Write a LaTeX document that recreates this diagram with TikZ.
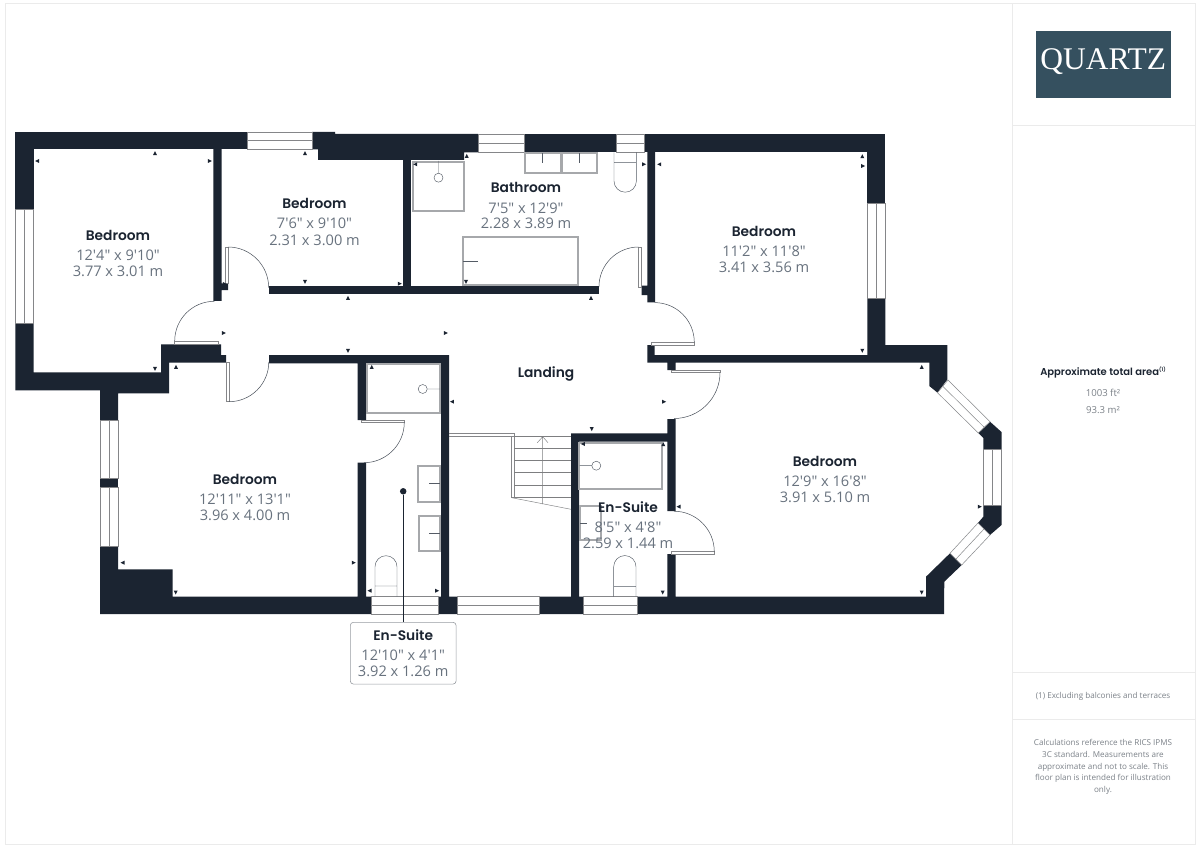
\documentclass[tikz,border=0pt]{standalone}
\usepackage{fontspec}
\newfontfamily\dimf{Open Sans}
\newfontfamily\namef[UprightFont=* SemiBold]{Poppins}
\newfontfamily\logof{Liberation Serif}
\definecolor{wall}{HTML}{1B2431}
\definecolor{dimtext}{HTML}{68727E}
\definecolor{fx}{HTML}{A6A8AB}
\definecolor{frameln}{HTML}{EBEBEB}
\definecolor{logobg}{HTML}{35505F}
\definecolor{noteln}{HTML}{7B8188}
\tikzset{
 x=1pt,y=-1pt,
 wallfill/.style={fill=wall,draw=none},
 winbox/.style={draw=fx!80!black,line width=.5pt,fill=white},
 fixture/.style={draw=fx,line width=1.7pt},
 thinfix/.style={draw=wall!75!white,line width=.45pt},
 leaf/.style={draw=fx!80!black,line width=.5pt,fill=white},
 swing/.style={draw=wall!80!white,line width=.5pt},
 rname/.style={font=\namef\fontsize{13.8}{14}\selectfont,text=wall,anchor=base,inner sep=0pt},
 rdim/.style={font=\dimf\fontsize{14.6}{15}\selectfont,text=dimtext,anchor=base,inner sep=0pt},
 note/.style={font=\dimf\fontsize{8.1}{11.6}\selectfont,text=noteln,anchor=base,inner sep=0pt},
}
\newcommand{\roomlabel}[7]{%
 \node[rname] (#1n) at (#2,#3) {#4};
 \node[rdim] (#1a) at (#2,#3+20) {#5};
 \node[rdim] (#1b) at (#2,#3+#7) {#6};}
\newcommand{\hwin}[4]{\draw[winbox] (#1,#2) rectangle (#3,#4); \draw[winbox] (#1,{(#2+#4)/2}) -- (#3,{(#2+#4)/2});}
\newcommand{\vwin}[4]{\draw[winbox] (#1,#2) rectangle (#3,#4); \draw[winbox] ({(#1+#3)/2},#2) -- ({(#1+#3)/2},#4);}
\newcommand{\fxrect}[4]{\draw[fixture] (#1,#2) rectangle (#3,#4);}
\newcommand{\dmk}[3]{\begin{scope}[shift={(#1,#2)},rotate=#3]\fill[wall] (-2.2,-2)--(-2.2,2)--(1.8,0)--cycle;\end{scope}}
\begin{document}
\begin{tikzpicture}
\useasboundingbox (0,0) rectangle (1200,848);
\fill[white] (0,0) rectangle (1200,848);
% frame
\draw[frameln,line width=1pt] (5,4) rectangle (1195,844);
\draw[frameln,line width=1pt] (1012,4)--(1012,844) (1012,126)--(1195,126) (1012,672)--(1195,672) (1012,719)--(1195,719);
% walls
\fill[wallfill] (15.3,132) rectangle (247,149.5);
\fill[wallfill] (15.3,132) rectangle (33.5,209);
\fill[wallfill] (15.3,323)--(33.5,323)--(33.5,372.3)--(161,372.3)--(161,344.3)--(221,344.3)--(221,355)--(226,355)--(226,362.5)--(169,362.5)--(169,393.3)--(118,393.3)--(118,420)--(100,420)--(100,390.3)--(15.3,390.3)--cycle;
\fill[wallfill] (213.3,149)--(221.7,149)--(221.7,283.3)--(228,283.3)--(228,290)--(221.7,290)--(221.7,300.8)--(213.3,300.8)--cycle;
\fill[wallfill] (312,132)--(335,132)--(335,134)--(478,134)--(478,152.3)--(464,152.3)--(464,160)--(318,160)--(318,149.5)--(312,149.5)--cycle;
\fill[wallfill] (403.3,160) rectangle (411,286);
\fill[wallfill] (268.7,285.7) rectangle (599,294);
\fill[wallfill] (524.3,134) rectangle (616,152.3);
\fill[wallfill] (644,134) rectangle (885.3,152.3);
\fill[wallfill] (647.3,152)--(655,152)--(655,302.3)--(647.3,302.3)--(647.3,295)--(641.7,295)--(641.7,285.5)--(647.3,285.5)--cycle;
\fill[wallfill] (867.3,134) rectangle (885.3,203.3);
\fill[wallfill] (867.3,298.3)--(885.3,298.3)--(885.3,345)--(947.3,345)--(947.3,379.5)--(937.5,392.7)--(929.3,386)--(929.3,362.7)--(675.7,362.7)--(675.7,370)--(667.3,370)--(667.3,362.7)--(647.3,362.7)--(647.3,345)--(654.5,345)--(654.5,355)--(867.3,355)--cycle;
\fill[wallfill] (990,421.7)--(1001.5,432)--(1001.5,449.3)--(983.3,449.3)--(983.3,438)--(978.3,433)--cycle;
\fill[wallfill] (983.3,505.7)--(1001.5,505.7)--(1001.5,525)--(990,535)--(978,523)--(983.3,516.7)--cycle;
\fill[wallfill] (100,546)--(118,546)--(118,569.3)--(172.7,569.3)--(172.7,596.5)--(357.7,596.5)--(357.7,462.7)--(366,462.7)--(366,596.5)--(371.7,596.5)--(371.7,614)--(100,614)--cycle;
\fill[wallfill] (269,355)--(449,355)--(449,596.5)--(457,596.5)--(457,614)--(438.3,614)--(438.3,596.5)--(441,596.5)--(441,363.3)--(366,363.3)--(366,420)--(357.7,420)--(357.7,363.3)--(269,363.3)--cycle;
\fill[wallfill] (100,478.3) rectangle (118,487.7);
\fill[wallfill] (539.3,596.5)--(571,596.5)--(571,433.3)--(667.3,433.3)--(667.3,419)--(675.7,419)--(675.7,511)--(667.3,511)--(667.3,441.7)--(579,441.7)--(579,596.5)--(583.3,596.5)--(583.3,614)--(539.3,614)--cycle;
\fill[wallfill] (637.5,596.5)--(667.3,596.5)--(667.3,554)--(675.7,554)--(675.7,596.5)--(926,596.5)--(926,576.7)--(950,553.3)--(961.7,565)--(944.3,581.7)--(944,614)--(637.5,614)--cycle;
% windows
\hwin{247}{132}{312}{149.5}
\hwin{478}{134}{524.3}{152.3}
\hwin{616}{134}{644}{152.3}
\hwin{371.7}{596.5}{438.3}{614}
\hwin{457}{596.5}{539.3}{614}
\hwin{583.3}{596.5}{637.5}{614}
\vwin{15.3}{209}{33.5}{323}
\vwin{867.3}{203.3}{885.3}{298.3}
\vwin{100}{420}{118}{478.3}
\vwin{100}{487.7}{118}{546}
\vwin{983.3}{449.3}{1001.5}{505.7}
\draw[winbox] (948,380)--(990,421.7)--(978.3,433)--(937.5,392.7)--cycle (942.8,386.3)--(984.2,427.3);
\draw[winbox] (990,535)--(961.7,565)--(950,553.3)--(978,523)--cycle (984,529)--(955.8,559.2);
% doors
\draw[leaf] (225.7,247) rectangle (228,283.3);
\draw[swing] (228,247) arc[start angle=-90,end angle=0,radius=40.7];
\draw[leaf] (174.7,341) rectangle (218,344.3);
\draw[swing] (174.7,341) arc[start angle=180,end angle=270,radius=39.7];
\draw[leaf] (226,362.5) rectangle (229,401.7);
\draw[swing] (229,401.7) arc[start angle=90,end angle=0,radius=39.8];
\draw[leaf] (638.7,247) rectangle (641.7,287);
\draw[swing] (638.7,247) arc[start angle=-90,end angle=-180,radius=39.7];
\draw[leaf] (651.7,342.3) rectangle (694.3,345);
\draw[swing] (694.3,342.3) arc[start angle=0,end angle=-90,radius=39.7];
\draw[leaf] (671.7,370) rectangle (720,372.5);
\draw[swing] (720,372.5) arc[start angle=0,end angle=90,radius=46];
\draw[leaf] (671.7,551.7) rectangle (714.3,554);
\draw[swing] (714.3,551.7) arc[start angle=0,end angle=-90,radius=40.5];
\draw[leaf] (361.7,420) rectangle (404.3,422.3);
\draw[swing] (404.3,422.3) arc[start angle=0,end angle=90,radius=40.4];
% bathroom fixtures
\fxrect{412.7}{161.7}{464.3}{210.7}
\draw[thinfix] (438.5,161)--(438.5,173) (438.5,177.7) circle[radius=4.5];
\fxrect{525}{153.3}{560.7}{173.3}
\fxrect{562.3}{153.3}{597.3}{173.3}
\draw[thinfix] (542.3,153)--(542.3,163) (579.3,153)--(579.3,163);
\draw[thinfix] (614,152.3)--(614,181) arc[start angle=180,end angle=0,radius=11.2]--(636.4,152.3) (614,162.3)--(636.4,162.3);
\fxrect{462.7}{236.7}{577.7}{285}
\draw[thinfix] (463,261)--(478,261);
% left en-suite fixtures
\fxrect{366.7}{364}{440}{413.3}
\draw[thinfix] (440,389)--(427.2,389) (422.7,389) circle[radius=4.5];
\fxrect{418.3}{465.7}{440}{501.7}
\fxrect{419.3}{515.7}{440}{550.7}
\draw[thinfix] (429,483)--(440,483) (429,533)--(440,533);
\draw[thinfix] (375,596.5)--(375,566.7) arc[start angle=180,end angle=360,radius=11]--(397,596.5) (375,586)--(397,586);
% stairs
\draw[winbox,fill=none] (449,433.3)--(514.3,433.3)--(514.3,436.7)--(449,436.7);
\draw[winbox,fill=none] (511.7,436.7)--(511.7,497.7)--(514.3,497.7)--(514.3,436.7);
\draw[thinfix,draw=fx!75!black] (511.7,497.7)--(571,509.3);
\foreach \ty in {436.7,448.3,460.3,472.7,485,497.3}{\draw[thinfix,draw=fx!75!black] (514.3,\ty)--(571,\ty);}
\draw[thinfix,draw=fx!75!black] (542.7,436.7)--(542.7,504) (537.3,442.7)--(542.7,436.7)--(548,442.7);
% right en-suite fixtures
\fxrect{579.3}{442.7}{661.7}{489.3}
\draw[thinfix] (579.5,465.7)--(592,465.7) (596.3,465.7) circle[radius=4.5];
\fxrect{580}{506}{600.7}{540}
\draw[thinfix] (580,523)--(587,523);
\draw[thinfix] (613.7,596.5)--(613.7,566.7) arc[start angle=180,end angle=360,radius=11.15]--(636,596.5) (613.7,586.7)--(636,586.7);
% dimension marks
\dmk{155}{153}{90}\dmk{37}{161}{180}\dmk{210}{161}{0}\dmk{305}{153}{90}\dmk{305}{282}{270}\dmk{400}{283.7}{0}
\dmk{348}{297.7}{90}\dmk{348}{351}{270}\dmk{224}{333}{0}\dmk{155}{369}{270}\dmk{176}{366.7}{90}\dmk{225}{284}{0}\dmk{371.7}{366.7}{90}
\dmk{466.7}{155.7}{90}\dmk{415}{164.3}{180}\dmk{466}{282}{270}\dmk{591}{297.7}{90}\dmk{644.3}{164.3}{0}\dmk{659}{164.3}{180}
\dmk{446}{333}{0}\dmk{451.7}{401.7}{180}\dmk{664.3}{401.7}{0}
\dmk{122.3}{562.7}{180}\dmk{354}{562.7}{0}\dmk{175.7}{592.7}{270}\dmk{369.3}{590.7}{180}\dmk{437.3}{590.7}{0}
\dmk{591.7}{429.3}{270}\dmk{582.7}{444}{180}\dmk{663.3}{444}{90}\dmk{678.3}{506.7}{180}\dmk{662.7}{592.7}{270}
\dmk{862.3}{156}{90}\dmk{863.3}{166}{0}\dmk{862.3}{351}{270}\dmk{921.7}{366.7}{90}\dmk{980}{506.7}{0}\dmk{921.7}{592.7}{270}
% room labels
\roomlabel{bedone}{118}{240}{Bedroom}{12'4" x 9'10"}{3.77 x 3.01 m}{36}
\roomlabel{bedtwo}{314.5}{208.5}{Bedroom}{7'6" x 9'10"}{2.31 x 3.00 m}{36.5}
\roomlabel{bath}{526}{193}{Bathroom}{7'5" x 12'9"}{2.28 x 3.89 m}{36}
\roomlabel{bedthree}{764}{236}{Bedroom}{11'2" x 11'8"}{3.41 x 3.56 m}{36}
\node[rname] (landing) at (546,377) {Landing};
\roomlabel{bedfour}{825}{466}{Bedroom}{12'9" x 16'8"}{3.91 x 5.10 m}{36}
\roomlabel{bedfive}{245}{484}{Bedroom}{12'11" x 13'1"}{3.96 x 4.00 m}{36}
\roomlabel{ensr}{628}{512}{En-Suite}{8'5" x 4'8"}{2.59 x 1.44 m}{36}
% callout
\node[circle,fill=wall,minimum size=6.5pt,inner sep=0pt] (dot) at (403.2,491.3) {};
\node[draw=wall!45!white,line width=.6pt,fill=white,rounded corners=3pt,minimum width=105.7pt,minimum height=61.7pt,inner sep=0pt] (box) at (403.2,653.2) {};
\draw[wall,line width=.5pt] (dot) -- (box);
\roomlabel{ensl}{403.2}{640}{En-Suite}{12'10" x 4'1"}{3.92 x 1.26 m}{36}
% panel
\node[fill=logobg,minimum width=134.5pt,minimum height=67pt,inner sep=0pt] (logo) at (1103.3,64.7) {};
\node[font=\logof\fontsize{31.5}{32}\selectfont,text=white,inner sep=0pt] (logotext) at (1103.3,62) {QUARTZ};
\node[font=\namef\fontsize{10}{10}\selectfont,text=wall,anchor=base,inner sep=0pt] (area) at (1103,375) {Approximate total area\raisebox{3.5pt}{\fontsize{5}{5}\selectfont(1)}};
\node[note,font=\dimf\fontsize{9.6}{11}\selectfont] (ft) at (1103,396.5) {1003 ft²};
\node[note,font=\dimf\fontsize{9.6}{11}\selectfont] (sqm) at (1103,413) {93.3 m²};
\node[note] (fn) at (1103,698) {(1) Excluding balconies and terraces};
\node[note] (c1) at (1103,745) {Calculations reference the RICS IPMS};
\node[note] (c2) at (1103,757) {3C standard. Measurements are};
\node[note] (c3) at (1103,769) {approximate and not to scale. This};
\node[note] (c4) at (1103,780.5) {floor plan is intended for illustration};
\node[note] (c5) at (1103,792.5) {only.};
\end{tikzpicture}
\end{document}
